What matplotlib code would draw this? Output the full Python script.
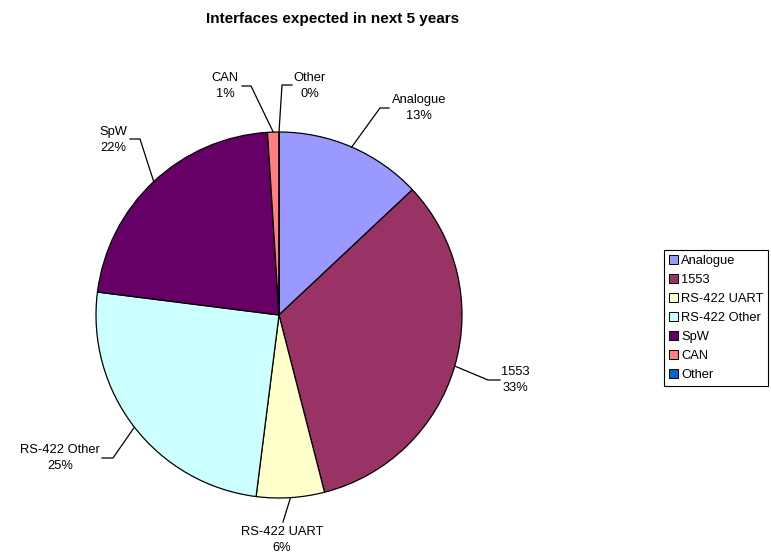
import matplotlib
matplotlib.use("Agg")
import matplotlib.pyplot as plt
from matplotlib.patches import Patch
import numpy as np

# --- DATA
labels = ["Analogue", "1553", "RS-422 UART", "RS-422 Other", "SpW", "CAN", "Other"]
shares = [13, 33, 6, 25, 22, 1, 0]  # percent
colors = ["#9999FF", "#993366", "#FFFFCC", "#CCFFFF", "#660066", "#FF8080", "#0066CC"]
title = "Interfaces expected in next 5 years"

plt.rcParams["font.family"] = ["Liberation Sans", "DejaVu Sans"]

W, H = 771, 554
fig = plt.figure(figsize=(W / 100, H / 100), dpi=100)
# axes covering the whole figure, one unit = one pixel
ax = fig.add_axes([0, 0, 1, 1])

cx, cy, r = 279, 239, 183
wedges, _ = ax.pie(shares, colors=colors, startangle=90, counterclock=False,
                   center=(cx, cy), radius=r, frame=True,
                   wedgeprops=dict(edgecolor="black", linewidth=0.9))
ax.set_xlim(0, W)
ax.set_ylim(0, H)
ax.set_aspect("auto")
ax.axis("off")

# label placement: text centre, elbow of leader, end of leader
label_pos = {
    "Analogue":     ((419, 446), (380, 446), (389, 446)),
    "1553":         ((515, 174), (488, 174), (500, 174)),
    "RS-422 UART":  ((282, 14),  (283, 32),  (283, 32)),
    "RS-422 Other": ((60, 96),   (113, 96),  (102, 96)),
    "SpW":          ((113, 414), (140, 415), (130, 415)),
    "CAN":          ((225, 468), (251, 468), (242, 468)),
    "Other":        ((310, 468), (282, 469), (292, 469)),
}

for w, lab, val in zip(wedges, labels, shares):
    mid = np.deg2rad((w.theta1 + w.theta2) / 2)
    ex, ey = cx + r * np.cos(mid), cy + r * np.sin(mid)
    (tx, ty), (bx, by), (hx, hy) = label_pos[lab]
    ax.plot([ex, bx, hx], [ey, by, hy], color="black", linewidth=0.9, zorder=5)
    ax.text(tx, ty, f"{lab}\n{val}%", ha="center", va="center", fontsize=9.3,
            linespacing=1.45)

ax.text(333, 535, title, ha="center", va="center", fontsize=11, fontweight="bold")

handles = [Patch(facecolor=c, edgecolor="black", linewidth=0.7) for c in colors]
leg = fig.legend(handles, labels, loc="upper left",
                 bbox_to_anchor=(664 / W, 304 / H), fontsize=9.3,
                 frameon=True, fancybox=False, edgecolor="black", framealpha=1,
                 handlelength=0.7, handleheight=0.7, handletextpad=0.3,
                 labelspacing=0.55, borderpad=0.35, borderaxespad=0)
leg.get_frame().set_linewidth(0.8)

fig.savefig("out.png", dpi=100)
